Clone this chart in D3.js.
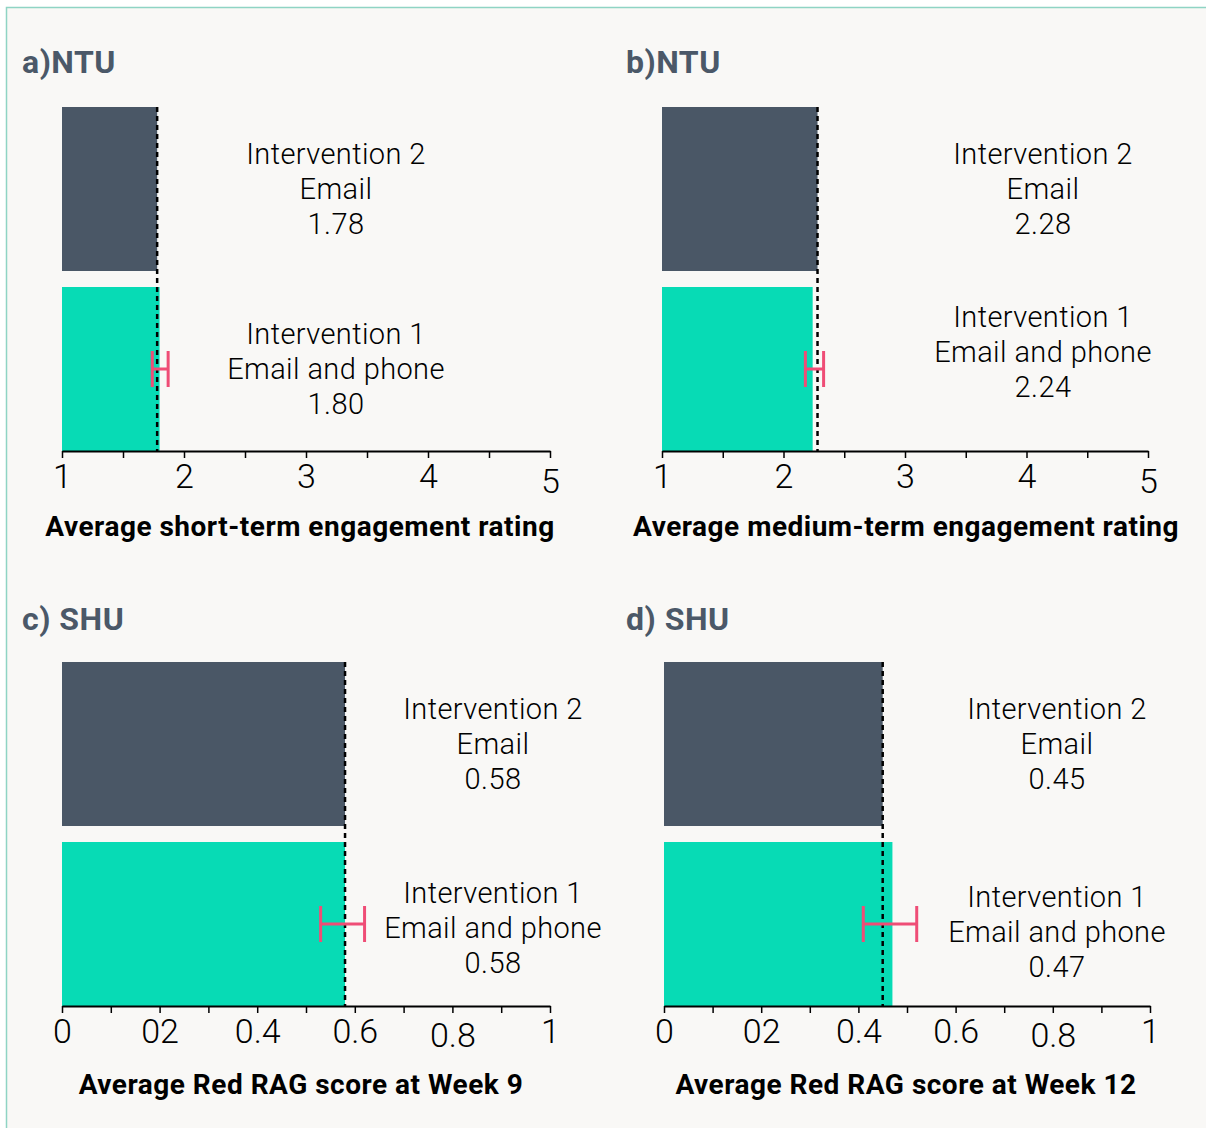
<!DOCTYPE html>
<html>
<head>
<meta charset="utf-8">
<script src="https://cdn.jsdelivr.net/npm/d3@7"></script>
<style>
  html, body { margin: 0; padding: 0; background: #ffffff; }
  svg { display: block; }
</style>
</head>
<body>
<svg id="chart" width="1206" height="1128"></svg>
<script>
// ---------------- DATA ----------------
const panelTitles = ["a)NTU", "b)NTU", "c) SHU", "d) SHU"];
const axisTitles = [
  "Average short-term engagement rating",
  "Average medium-term engagement rating",
  "Average Red RAG score at Week 9",
  "Average Red RAG score at Week 12"
];
const groups = ["Intervention 2", "Intervention 1"];
const groupModes = ["Email", "Email and phone"];
const intervention2Values = [1.78, 2.28, 0.58, 0.45];
const intervention1Values = [1.80, 2.24, 0.58, 0.47];
const intervention1Low = [1.74, 2.18, 0.53, 0.41];
const intervention1High = [1.87, 2.33, 0.62, 0.52];
const ratingDomain = [1, 5];
const ragDomain = [0, 1];
const ratingTicks = [1, 1.5, 2, 2.5, 3, 3.5, 4, 4.5, 5];
const ratingTickLabels = ["1", "", "2", "", "3", "", "4", "", "5"];
const ragTicks = [0, 0.1, 0.2, 0.3, 0.4, 0.5, 0.6, 0.7, 0.8, 0.9, 1];
const ragTickLabels = ["0", "", "02", "", "0.4", "", "0.6", "", "0.8", "", "1"];

// ---------------- LAYOUT ----------------
const layout = [
  { x: [62, 550],  y: [107, 451],  title: [22, 73],   labelX: 336,  labelDy: [0, 0],   axisTitleX: 300, axisTitleY: 536,  domain: ratingDomain, ticks: ratingTicks, tickLabels: ratingTickLabels, lowLabel: {"5": 5} },
  { x: [662, 1148], y: [107, 451], title: [626, 73],  labelX: 1043, labelDy: [0, -17], axisTitleX: 906, axisTitleY: 536,  domain: ratingDomain, ticks: ratingTicks, tickLabels: ratingTickLabels, lowLabel: {"5": 5} },
  { x: [62, 550],  y: [662, 1006], title: [22, 630],  labelX: 493,  labelDy: [0, 4],   axisTitleX: 301, axisTitleY: 1094, domain: ragDomain, ticks: ragTicks, tickLabels: ragTickLabels, lowLabel: {"0.8": 4} },
  { x: [664, 1150], y: [662, 1006], title: [626, 630], labelX: 1057, labelDy: [0, 8],   axisTitleX: 906, axisTitleY: 1094, domain: ragDomain, ticks: ragTicks, tickLabels: ragTickLabels, lowLabel: {"0.8": 4} }
];

const colors = { int2: "#4a5766", int1: "#07dbb5", err: "#ef4d76", title: "#4b5868", bg: "#f9f8f6", border: "#8fd4c4" };
const FONT = "Roboto, 'DejaVu Sans', sans-serif";

const svg = d3.select("#chart");

// background panel with teal border (top + left visible)
svg.append("rect")
  .attr("x", 6.5).attr("y", 7.5)
  .attr("width", 1220).attr("height", 1140)
  .attr("fill", colors.bg)
  .attr("stroke", colors.border)
  .attr("stroke-width", 1.5);

panelTitles.forEach((pt, i) => {
  const L = layout[i];
  const g = svg.append("g");

  const x = d3.scaleLinear().domain(L.domain).range(L.x);
  const y = d3.scaleBand().domain(groups).range(L.y).paddingInner(0.0889).paddingOuter(0);

  const vals = [intervention2Values[i], intervention1Values[i]];

  // panel title
  g.append("text")
    .attr("x", L.title[0]).attr("y", L.title[1])
    .attr("font-family", FONT).attr("font-weight", 700)
    .attr("font-size", 32).attr("fill", colors.title)
    .attr("letter-spacing", 0.5)
    .text(pt);

  // bars
  g.selectAll("rect.bar").data(groups).enter().append("rect")
    .attr("class", "bar")
    .attr("x", x(L.domain[0]))
    .attr("y", d => y(d))
    .attr("width", (d, k) => x(vals[k]) - x(L.domain[0]))
    .attr("height", y.bandwidth())
    .attr("fill", (d, k) => k === 0 ? colors.int2 : colors.int1);

  // dashed reference line at Intervention 2 value
  g.append("line")
    .attr("x1", x(vals[0])).attr("x2", x(vals[0]))
    .attr("y1", y(groups[0])).attr("y2", y(groups[1]) + y.bandwidth())
    .attr("stroke", "#000").attr("stroke-width", 2.5)
    .attr("stroke-dasharray", "5,4");

  // error bar on Intervention 1
  const cy = y(groups[1]) + y.bandwidth() / 2;
  const lo = x(intervention1Low[i]), hi = x(intervention1High[i]);
  const eg = g.append("g").attr("stroke", colors.err).attr("stroke-width", 3);
  eg.append("line").attr("x1", lo).attr("x2", hi).attr("y1", cy).attr("y2", cy);
  eg.append("line").attr("x1", lo).attr("x2", lo).attr("y1", cy - 18).attr("y2", cy + 18);
  eg.append("line").attr("x1", hi).attr("x2", hi).attr("y1", cy - 18).attr("y2", cy + 18);

  // labels
  groups.forEach((grp, k) => {
    const c = y(grp) + y.bandwidth() / 2 + L.labelDy[k];
    const lines = [grp, groupModes[k], d3.format(".2f")(vals[k])];
    lines.forEach((t, j) => {
      g.append("text")
        .attr("x", L.labelX)
        .attr("y", c + (j - 1) * 35)
        .attr("dy", "0.35em")
        .attr("text-anchor", "middle")
        .attr("font-family", FONT).attr("font-weight", 300)
        .attr("font-size", 29).attr("fill", "#000")
        .attr("letter-spacing", 0.4)
        .text(t);
    });
  });

  // axis
  const axis = d3.axisBottom(x)
    .tickValues(L.ticks)
    .tickSize(7)
    .tickSizeOuter(0)
    .tickFormat((d, k) => L.tickLabels[k]);
  const ag = g.append("g")
    .attr("transform", `translate(0,${L.y[1]})`)
    .call(axis);
  ag.select(".domain").attr("stroke", "#000").attr("stroke-width", 2);
  ag.selectAll(".tick line").attr("stroke", "#000").attr("stroke-width", 1.5);
  ag.selectAll(".tick text")
    .attr("font-family", FONT).attr("font-weight", 300)
    .attr("font-size", 34).attr("fill", "#000")
    .attr("y", 10)
    .attr("dy", function () {
      const t = d3.select(this).text();
      return (L.lowLabel[t] ? L.lowLabel[t] : 0) + 27;
    })
    .attr("text-anchor", "middle");

  // axis title
  g.append("text")
    .attr("x", L.axisTitleX).attr("y", L.axisTitleY)
    .attr("text-anchor", "middle")
    .attr("font-family", FONT).attr("font-weight", 700)
    .attr("font-size", 28).attr("fill", "#000")
    .attr("letter-spacing", 0.5)
    .text(axisTitles[i]);
});
</script>
</body>
</html>
